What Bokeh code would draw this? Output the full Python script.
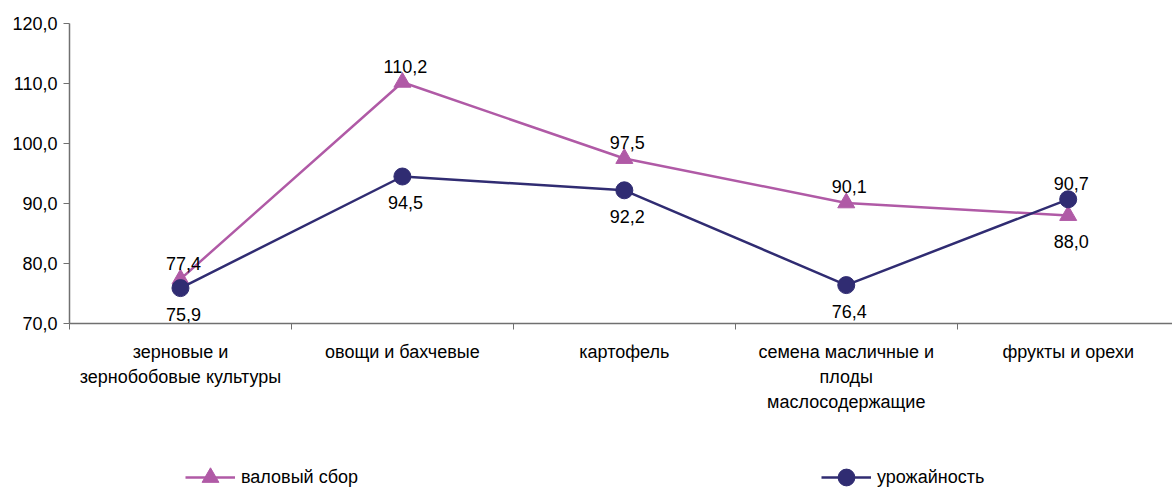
import numpy as np
from bokeh.plotting import figure
from bokeh.layouts import column
from bokeh.models import Range1d, FixedTicker, Legend, LegendItem, ColumnDataSource
from bokeh.embed import file_html
from bokeh.resources import INLINE
from bokeh.core.properties import value

categories = ["зерновые и\nзернобобовые культуры", "овощи и бахчевые", "картофель",
              "семена масличные и\nплоды\nмаслосодержащие", "фрукты и орехи"]
gross = [77.4, 110.2, 97.5, 90.1, 88.0]
crop_yield = [75.9, 94.5, 92.2, 76.4, 90.7]
y_ticks = [70, 80, 90, 100, 110, 120]
series_names = ["валовый сбор", "урожайность"]

PINK = "#B05AA6"
NAVY = "#302C72"
FONT = "Liberation Sans"
FS = "18px"

def fmt(v):
    return f"{v:.1f}".replace(".", ",")

xs = list(range(1, len(categories) + 1))

p = figure(width=1172, height=440, output_backend="svg", toolbar_location=None,
           x_range=Range1d(0.5, 5.47), y_range=Range1d(70, 120),
           min_border_left=69, min_border_right=0, min_border_top=23, min_border_bottom=117)
p.outline_line_color = None
p.xgrid.visible = False
p.ygrid.visible = False

# y axis
p.yaxis.ticker = FixedTicker(ticks=y_ticks)
p.yaxis.major_label_overrides = {t: fmt(t) for t in y_ticks}
p.yaxis.major_label_text_font = FONT
p.yaxis.major_label_text_font_size = FS
p.yaxis.major_label_text_color = "black"
p.yaxis.axis_line_color = "#707070"
p.yaxis.axis_line_width = 1.5
p.yaxis.major_tick_line_color = "#707070"
p.yaxis.major_tick_out = 6
p.yaxis.major_tick_in = 0
p.yaxis.minor_tick_line_color = None
p.yaxis.major_label_standoff = 6

# x axis
p.xaxis.ticker = FixedTicker(ticks=xs, minor_ticks=[x - 0.5 for x in xs] + [xs[-1] + 0.5])
p.xaxis.major_label_overrides = {x: c for x, c in zip(xs, categories)}
p.xaxis.major_label_text_font = FONT
p.xaxis.major_label_text_font_size = FS
p.xaxis.major_label_text_color = "black"
p.xaxis.major_label_text_line_height = 1.25
p.xaxis.axis_line_color = "#707070"
p.xaxis.axis_line_width = 1.5
p.xaxis.major_tick_line_color = None
p.xaxis.minor_tick_line_color = "#707070"
p.xaxis.minor_tick_out = 6
p.xaxis.minor_tick_in = 0
p.xaxis.major_label_standoff = 12

# series
l1 = p.line(xs, gross, line_color=PINK, line_width=2.5)
s1 = p.scatter(xs, gross, marker="triangle", size=17, fill_color=PINK, line_color=PINK)
l2 = p.line(xs, crop_yield, line_color=NAVY, line_width=2.5)
s2 = p.scatter(xs, crop_yield, marker="circle", size=17, fill_color=NAVY, line_color=NAVY)

# data labels: higher value above, lower below
ABOVE, BELOW = -16, 26
off1 = [ABOVE if g >= c else BELOW for g, c in zip(gross, crop_yield)]
off2 = [ABOVE if c > g else BELOW for g, c in zip(gross, crop_yield)]
for vals, offs in ((gross, off1), (crop_yield, off2)):
    src = ColumnDataSource(dict(x=xs, y=vals, t=[fmt(v) for v in vals], dy=offs,
                                dx=[3] * len(xs)))
    p.text(x="x", y="y", text="t", x_offset="dx", y_offset="dy", source=src,
           text_align="center", text_baseline="middle",
           text_font=value(FONT), text_font_size=FS, text_color="black")

# legend strip (separate figure below the chart; its frame aligns with the chart's)
q = figure(width=1172, height=47, output_backend="svg", toolbar_location=None,
           x_axis_location=None, y_axis_location=None,
           x_range=Range1d(0, 1), y_range=Range1d(0, 1),
           min_border_left=69, min_border_right=0, min_border_top=0, min_border_bottom=0)
q.outline_line_color = None
q.xgrid.visible = False
q.ygrid.visible = False

def proxy():
    return ColumnDataSource(dict(x=np.array([np.nan]), y=np.array([np.nan])))

ql1 = q.line("x", "y", source=proxy(), line_color=PINK, line_width=2.5)
qs1 = q.scatter("x", "y", source=proxy(), marker="triangle", size=17,
                fill_color=PINK, line_color=PINK)
ql2 = q.line("x", "y", source=proxy(), line_color=NAVY, line_width=2.5)
qs2 = q.scatter("x", "y", source=proxy(), marker="circle", size=17,
                fill_color=NAVY, line_color=NAVY)

for name, rends, loc in ((series_names[0], [ql1, qs1], (116, -11)),
                         (series_names[1], [ql2, qs2], (752, -11))):
    lg = Legend(items=[LegendItem(label=name, renderers=rends)], location=loc,
                padding=0, margin=0, border_line_color=None, background_fill_alpha=0,
                glyph_width=50, glyph_height=42, label_standoff=6, label_height=20,
                label_text_font=FONT, label_text_font_size=FS, label_text_color="black")
    q.add_layout(lg, "center")

layout = column(p, q, spacing=0)
open("out.html", "w").write(file_html(layout, INLINE))
